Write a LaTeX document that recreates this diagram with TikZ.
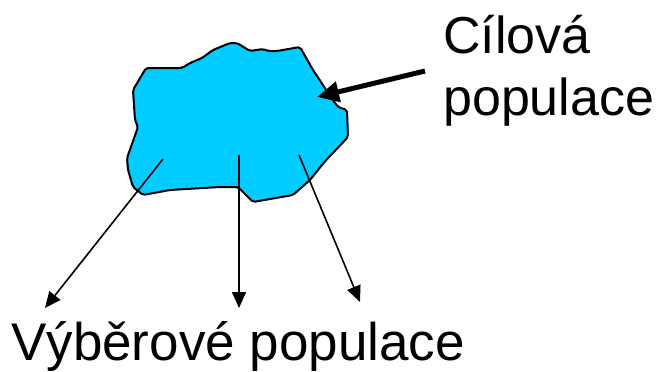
\documentclass[tikz,border=0pt]{standalone}
\usepackage{fontspec}
\setmainfont{Liberation Sans}
\usetikzlibrary{arrows.meta}
\definecolor{blobcyan}{HTML}{00CCFF}
\tikzset{
  blob/.style={fill=blobcyan,draw=black,line width=2pt,line join=round,rounded corners=2pt},
  thinarrow/.style={line width=1.6pt,-{Triangle[length=16pt,width=14pt]}},
  thickarrow/.style={line width=5pt,-{Triangle[length=22pt,width=20pt]}},
  bigtext/.style={font=\fontsize{52}{62}\selectfont,inner sep=0pt,anchor=base west}
}
\begin{document}
\begin{tikzpicture}[x=1pt,y=-1pt]
\useasboundingbox (0,0) rectangle (664,372);
\draw[blob] (146,68) -- (182,68) -- (190,63) -- (202,58) -- (213,50) -- (230,43) -- (237,43)
 -- (250,51) -- (263,49) -- (268,51) -- (277,51) -- (300,47) -- (313,70) -- (323,85)
 -- (328,93) -- (333,100) -- (338,107) -- (347,110) -- (348,137) -- (333,153) -- (328,158)
 -- (322,165) -- (310,180) -- (293,195) -- (253,202) -- (238,187) -- (220,187) -- (170,190)
 -- (143,195) -- (133,187) -- (128,170) -- (127,158) -- (138,127) -- (135,120) -- (133,90) -- cycle;
\node[bigtext] (cil) at (443,53) {Cílová};
\node[bigtext] (pop) at (443,115) {populace};
\node[bigtext,font=\fontsize{53}{62}\selectfont] (vyb) at (11,360) {Výběrové populace};
\coordinate (tin) at (317,97);
\coordinate (tstart) at (425,71);
\coordinate (s1) at (163,159);
\coordinate (s2) at (239,155);
\coordinate (s3) at (299,155);
\coordinate (e1) at (45,308);
\coordinate (e2) at (239,308);
\coordinate (e3) at (360,302);
\draw[thickarrow] (tstart) -- (tin);
\draw[thinarrow] (s1) -- (e1);
\draw[thinarrow] (s2) -- (e2);
\draw[thinarrow] (s3) -- (e3);
\end{tikzpicture}
\end{document}
